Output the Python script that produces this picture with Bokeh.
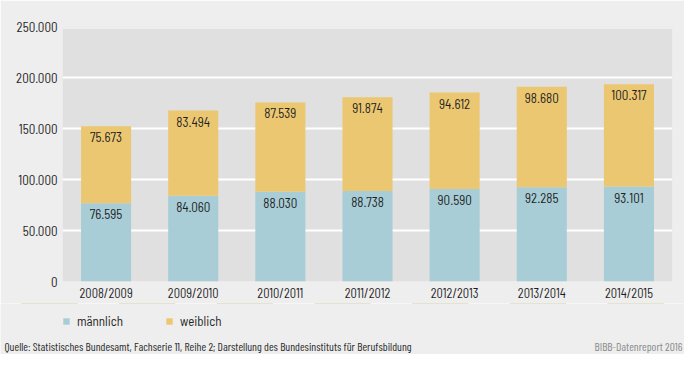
from bokeh.plotting import figure
from bokeh.layouts import column
from bokeh.models import (ColumnDataSource, FactorRange, FixedTicker, Legend, LegendItem,
                          BoxAnnotation, Label, Range1d)
from bokeh.core.properties import value
from bokeh.embed import file_html
from bokeh.resources import INLINE

# ---- data ----
years = ["2008/2009", "2009/2010", "2010/2011", "2011/2012", "2012/2013", "2013/2014", "2014/2015"]
maennlich = [76595, 84060, 88030, 88738, 90590, 92285, 93101]
weiblich = [75673, 83494, 87539, 91874, 94612, 98680, 100317]
y_ticks = [0, 50000, 100000, 150000, 200000, 250000]
series_labels = ["männlich", "weiblich"]
source_text = "Quelle: Statistisches Bundesamt, Fachserie 11, Reihe 2; Darstellung des Bundesinstituts für Berufsbildung"
credit_text = "BIBB-Datenreport 2016"

FONT = "Barlow Semi Condensed"
FONT_SMALL = "Barlow Condensed"
BLUE = "#a8cdd6"
YELLOW = "#ecc772"
OUTER = "#eeeeee"
INNER = "#e0e0e0"
TXT = "#1e1e1e"


def de(v):
    return f"{v:,}".replace(",", ".")


tops = [m + w for m, w in zip(maennlich, weiblich)]
src = ColumnDataSource(dict(
    x=years, m=maennlich, w=weiblich, tot=tops,
    mlab=[de(v) for v in maennlich], wlab=[de(v) for v in weiblich],
))

p = figure(width=684, height=303, x_range=FactorRange(*years, range_padding=0),
           y_range=Range1d(0, 250000), output_backend="svg", toolbar_location=None,
           min_border_left=62, min_border_right=12, min_border_top=26, min_border_bottom=20)
p.x_range.factor_padding = 0
p.background_fill_color = INNER
p.border_fill_color = OUTER
p.outline_line_color = None
p.frame_align = False

rs = p.vbar_stack(["m", "w"], x="x", width=0.575, color=[BLUE, YELLOW], line_color=None, source=src)

# strip of the frame above the grey plot area uses the outer colour
p.add_layout(BoxAnnotation(bottom=247500, top=250000, fill_color=OUTER, fill_alpha=1,
                           line_color=None, level="underlay"))

p.text(x="x", y="m", text="mlab", source=src, text_align="center", text_baseline="top",
       y_offset=6, text_font=value(FONT), text_font_size="13px", text_color=TXT)
p.text(x="x", y="tot", text="wlab", source=src, text_align="center", text_baseline="top",
       y_offset=6, text_font=value(FONT), text_font_size="13px", text_color=TXT)

# axes
p.yaxis.ticker = FixedTicker(ticks=y_ticks)
p.yaxis.major_label_overrides = {t: de(t) for t in y_ticks}
p.ygrid.ticker = FixedTicker(ticks=y_ticks[1:-1])
p.ygrid.grid_line_color = "white"
p.ygrid.grid_line_width = 2
p.xgrid.grid_line_color = None
for ax in (p.xaxis, p.yaxis):
    ax.axis_line_color = None
    ax.major_tick_line_color = None
    ax.minor_tick_line_color = None
    ax.major_tick_out = 0
    ax.major_tick_in = 0
    ax.minor_tick_out = 0
    ax.major_label_text_font = FONT
    ax.major_label_text_color = TXT
p.yaxis.major_label_text_font_size = "13px"
p.xaxis.major_label_text_font_size = "12.5px"
p.yaxis.major_label_standoff = 5
p.xaxis.major_label_standoff = 3

# ---- footer: legend + source lines ----
# the footer re-draws the series below its visible y-range so only their legend entries show
f = figure(width=684, height=51, x_range=FactorRange(*years), y_range=Range1d(-2, -1),
           output_backend="svg", toolbar_location=None,
           min_border_left=0, min_border_right=0, min_border_top=0, min_border_bottom=0)
f.frame_align = False
f.background_fill_color = OUTER
f.border_fill_color = OUTER
f.outline_line_color = None
f.axis.visible = False
f.grid.visible = False
fr = f.vbar_stack(["m", "w"], x="x", width=0.575, color=[BLUE, YELLOW], line_color=None, source=src)

legend = Legend(items=[LegendItem(label=series_labels[0], renderers=[fr[0]]),
                       LegendItem(label=series_labels[1], renderers=[fr[1]])],
                orientation="horizontal", location=(62, 25),
                glyph_width=8, glyph_height=8, label_standoff=7, spacing=42,
                padding=0, margin=0, border_line_color=None, background_fill_alpha=0,
                label_text_font=FONT, label_text_font_size="13px", label_text_color=TXT,
                label_height=12)
f.add_layout(legend)

f.add_layout(Label(x=4, y=9, x_units="screen", y_units="screen", text=source_text,
                   text_baseline="middle", text_font=FONT_SMALL, text_font_size="11.5px",
                   text_color="#2a2a2a"))
f.add_layout(Label(x=682, y=9, x_units="screen", y_units="screen", text=credit_text,
                   text_baseline="middle", text_align="right", text_font=FONT_SMALL,
                   text_font_size="11.5px", text_color="#8a8a8a"))

layout = column(p, f, spacing=0)
open("out.html", "w").write(file_html(layout, INLINE))
